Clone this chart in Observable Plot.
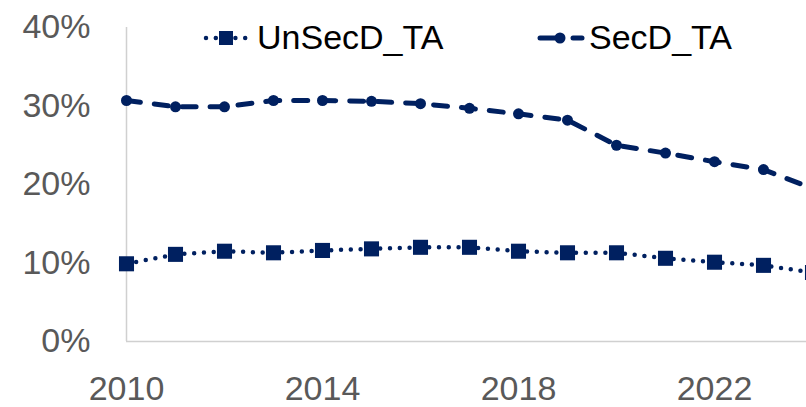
<!DOCTYPE html>
<html>
<head>
<meta charset="utf-8">
<script src="https://cdn.jsdelivr.net/npm/d3@7"></script>
<script src="https://cdn.jsdelivr.net/npm/@observablehq/plot@0.6"></script>
<style>
  html, body { margin: 0; padding: 0; background: #fff; }
  #wrap { position: relative; width: 806px; height: 407px; overflow: hidden; font-family: "Liberation Sans", Arial, sans-serif; }
  .leg { position: absolute; top: 18px; display: flex; align-items: center; font-size: 34px; color: #000; white-space: nowrap; }
  .leg svg { display: block; }
</style>
</head>
<body>
<div id="wrap"></div>
<script>
const years = [2010, 2011, 2012, 2013, 2014, 2015, 2016, 2017, 2018, 2019, 2020, 2021, 2022, 2023, 2024];
const unsecD = [0.099, 0.111, 0.115, 0.113, 0.116, 0.118, 0.120, 0.120, 0.115, 0.113, 0.113, 0.106, 0.101, 0.097, 0.088];
const secD   = [0.307, 0.299, 0.299, 0.307, 0.307, 0.306, 0.303, 0.297, 0.290, 0.282, 0.250, 0.240, 0.229, 0.219, 0.195];
const seriesNames = ["UnSecD_TA", "SecD_TA"];
const yTicks = [0, 0.1, 0.2, 0.3, 0.4];
const xTicks = [2010, 2014, 2018, 2022];

const navy = "#002060";
const rowsU = years.map((y, i) => ({year: y, value: unsecD[i]}));
const rowsS = years.map((y, i) => ({year: y, value: secD[i]}));

const chart = Plot.plot({
  width: 806,
  height: 407,
  marginLeft: 126,
  marginRight: 0,
  marginTop: 27,
  marginBottom: 66,
  style: {fontFamily: '"Liberation Sans", Arial, sans-serif', fontSize: "34px", color: "#595959", background: "#fff", overflow: "hidden"},
  x: {domain: [2010, 2024], range: [126, 812]},
  y: {domain: [0, 0.4], range: [341, 27]},
  marks: [
    Plot.axisY({ticks: yTicks, tickFormat: d3.format(".0%"), tickSize: 0, tickPadding: 36, fontSize: 34, fill: "#595959", label: null}),
    Plot.axisX({ticks: xTicks, tickFormat: d3.format("d"), tickSize: 0, tickPadding: 34, fontSize: 34, fill: "#595959", label: null}),
    Plot.ruleY([0], {stroke: "#d0d0d0", strokeWidth: 1.5}),
    Plot.ruleX([2010], {stroke: "#d0d0d0", strokeWidth: 1.5}),
    Plot.line(rowsS, {x: "year", y: "value", stroke: navy, strokeWidth: 5, strokeDasharray: "14 14", strokeLinecap: "round"}),
    Plot.dot(rowsS, {x: "year", y: "value", fill: navy, r: 5.5, symbol: "circle"}),
    Plot.line(rowsU, {x: "year", y: "value", stroke: navy, strokeWidth: 4.5, strokeDasharray: "0 9.8", strokeLinecap: "round"}),
    Plot.dot(rowsU, {x: "year", y: "value", fill: navy, r: 8.5, symbol: "square"})
  ]
});

const wrap = document.getElementById("wrap");
wrap.appendChild(chart);

function legendItem(left, name, kind) {
  const div = document.createElement("div");
  div.className = "leg";
  div.style.left = left + "px";
  let sym;
  if (kind === "dotted") {
    sym = `<svg width="54" height="24"><line x1="6" y1="12" x2="48" y2="12" stroke="${navy}" stroke-width="4.5" stroke-dasharray="0 9.8" stroke-linecap="round"/><rect x="19" y="5" width="14" height="14" fill="${navy}"/></svg>`;
  } else {
    sym = `<svg width="50" height="24"><line x1="4" y1="12" x2="19" y2="12" stroke="${navy}" stroke-width="5" stroke-linecap="round"/><line x1="37" y1="12" x2="46" y2="12" stroke="${navy}" stroke-width="5" stroke-linecap="round"/><circle cx="24" cy="12" r="5.5" fill="${navy}"/></svg>`;
  }
  div.innerHTML = sym + `<span style="margin-left:3px">${name}</span>`;
  wrap.appendChild(div);
}
legendItem(200, seriesNames[0], "dotted");
legendItem(536, seriesNames[1], "dashed");
</script>
</body>
</html>
